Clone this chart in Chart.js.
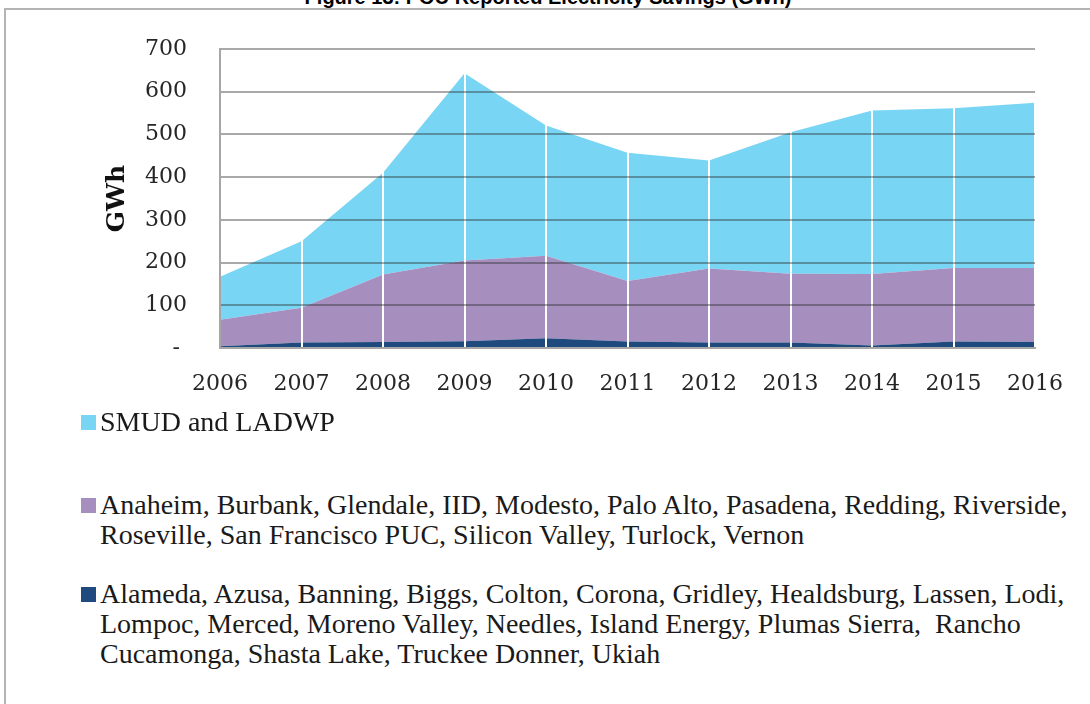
<!DOCTYPE html>
<html>
<head>
    <title>POU Reported Electricity Savings</title>
    <style>
        body {
            margin: 0;
            width: 1090px;
            height: 704px;
            overflow: hidden;
            background: #fff;
            position: relative;
        }

        #figTitle {
            position: absolute;
            left: 0;
            width: 1096px;
            top: -13px;
            line-height: 20px;
            text-align: center;
            font-family: "Liberation Sans", Arial, sans-serif;
            font-weight: bold;
            font-size: 20px;
            color: #000;
        }

        #frame {
            position: absolute;
            left: 4px;
            top: 8px;
            width: 1200px;
            height: 800px;
            border: 2px solid #b4b4b4;
        }

        #chartContainer {
            position: absolute;
            left: 0;
            top: 0;
            width: 1090px;
            height: 408px;
        }

        .legendItem {
            position: absolute;
            left: 100px;
            width: 990px;
            font-family: "Liberation Serif", serif;
            font-size: 28px;
            line-height: 30px;
            color: #1a1a1a;
            white-space: pre-wrap;
        }

        .swatch {
            position: absolute;
            left: -19px;
            top: 8px;
            width: 15px;
            height: 15px;
        }
    </style>
</head>
<body>
    <div id="figTitle">Figure 13: POU Reported Electricity Savings (GWh)</div>
    <div id="frame"></div>

    <div id="chartContainer">
        <canvas id="areaChart"></canvas>
    </div>
    <div id="legend"></div>

    <script src="https://cdn.jsdelivr.net/npm/chart.js"></script>
    <script>
        var years = ['2006', '2007', '2008', '2009', '2010', '2011', '2012', '2013', '2014', '2015', '2016'];

        // GWh per group, stacked bottom to top
        var smallPous = [4, 13, 14, 16, 23, 15, 13, 13, 6, 15, 14];
        var midPous = [62, 81, 158, 189, 193, 142, 173, 161, 167, 172, 173];
        var smudLadwp = [101, 156, 238, 438, 305, 300, 253, 331, 383, 374, 387];

        var smallLabel = 'Alameda, Azusa, Banning, Biggs, Colton, Corona, Gridley, Healdsburg, Lassen, Lodi, Lompoc, Merced, Moreno Valley, Needles, Island Energy, Plumas Sierra,  Rancho Cucamonga, Shasta Lake, Truckee Donner, Ukiah';
        var midLabel = 'Anaheim, Burbank, Glendale, IID, Modesto, Palo Alto, Pasadena, Redding, Riverside, Roseville, San Francisco PUC, Silicon Valley, Turlock, Vernon';
        var bigLabel = 'SMUD and LADWP';

        var yTicks = [0, 100, 200, 300, 400, 500, 600, 700];

        var gridGray = 'rgba(40, 40, 40, 0.4)';
        var axisGray = '#a6a6a6';

        var ctx = document.getElementById('areaChart').getContext('2d');
        var areaChart = new Chart(ctx, {
            type: 'line',
            data: {
                labels: years,
                datasets: [{
                    label: smallLabel,
                    data: smallPous,
                    backgroundColor: '#1f4a7e',
                    fill: 'origin'
                }, {
                    label: midLabel,
                    data: midPous,
                    backgroundColor: '#a68fbf',
                    fill: '-1'
                }, {
                    label: bigLabel,
                    data: smudLadwp,
                    backgroundColor: '#79d5f4',
                    fill: '-1'
                }]
            },
            options: {
                responsive: true,
                maintainAspectRatio: false,
                animation: false,
                elements: {
                    line: { borderWidth: 0, tension: 0 },
                    point: { radius: 0, hoverRadius: 0 }
                },
                layout: {
                    padding: { left: 0, top: 49, right: 55, bottom: 0 }
                },
                plugins: {
                    legend: { display: false },
                    tooltip: { enabled: false }
                },
                scales: {
                    x: {
                        offset: false,
                        grid: { color: '#ffffff', lineWidth: 2, drawTicks: false, z: 1 },
                        border: { color: axisGray, width: 2, z: 3 },
                        ticks: {
                            padding: 23,
                            color: '#262626',
                            font: { family: 'DejaVu Serif', size: 22 },
                            maxRotation: 0
                        },
                        afterFit: function (scale) { scale.height = 60; }
                    },
                    y: {
                        stacked: true,
                        min: 0,
                        max: 700,
                        afterBuildTicks: function (scale) {
                            scale.ticks = yTicks.map(function (v) { return { value: v }; });
                        },
                        grid: { color: gridGray, lineWidth: 2, drawTicks: false, z: 2 },
                        border: { color: axisGray, width: 2, z: 3 },
                        ticks: {
                            padding: 33,
                            color: '#262626',
                            font: { family: 'DejaVu Serif', size: 22 },
                            callback: function (v) { return v === 0 ? '- ' : v; }
                        },
                        title: {
                            display: true,
                            text: 'GWh',
                            color: '#111',
                            font: { family: 'DejaVu Serif', size: 25, weight: 'bold' },
                            padding: { top: 102, bottom: 0 }
                        },
                        afterFit: function (scale) { scale.width = 220; }
                    }
                }
            }
        });

        // legend below the chart, top entry first
        var legendTops = [407, 490, 579];
        var legendBox = document.getElementById('legend');
        areaChart.data.datasets.slice().reverse().forEach(function (ds, i) {
            var item = document.createElement('div');
            item.className = 'legendItem';
            item.style.top = legendTops[i] + 'px';
            var sw = document.createElement('span');
            sw.className = 'swatch';
            sw.style.background = ds.backgroundColor;
            item.appendChild(sw);
            item.appendChild(document.createTextNode(ds.label));
            legendBox.appendChild(item);
        });
    </script>
</body>
</html>
